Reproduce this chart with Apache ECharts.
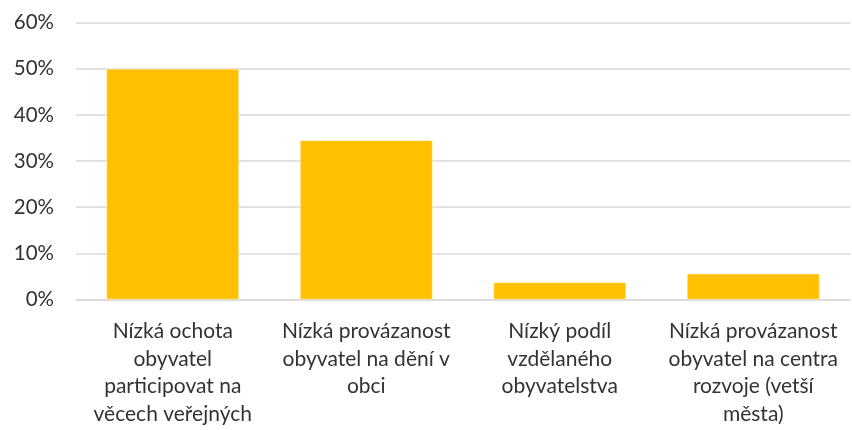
<!DOCTYPE html>
<html>
<head>
<meta charset="utf-8">
<script src="https://cdn.jsdelivr.net/npm/echarts@6/dist/echarts.min.js"></script>
<style>
  html, body { margin: 0; padding: 0; background: #fff; }
  #chart { width: 852px; height: 430px; }
</style>
</head>
<body>
<div id="chart"></div>
<script>
// Categories (wrapped as they appear under the axis)
const categories = [
  'Nízká ochota\nobyvatel\nparticipovat na\nvěcech veřejných',
  'Nízká provázanost\nobyvatel na dění v\nobci',
  'Nízký podíl\nvzdělaného\nobyvatelstva',
  'Nízká provázanost\nobyvatel na centra\nrozvoje (vetší\nměsta)'
];
// Share of responses, in percent
const shares = [50, 34.5, 3.7, 5.6];
// Value axis range
const axisMin = 0;
const axisMax = 60;
const axisStep = 10;

const FONT = 'Lato, "Open Sans", sans-serif';
const chart = echarts.init(document.getElementById('chart'), null, { renderer: 'canvas' });
chart.setOption({
  animation: false,
  backgroundColor: '#ffffff',
  grid: { left: 76, right: 2, top: 22.7, bottom: 130.5, containLabel: false },
  xAxis: {
    type: 'category',
    data: categories,
    axisLine: { show: true, lineStyle: { color: '#d9d9d9', width: 1.5 } },
    axisTick: { show: false },
    axisLabel: {
      interval: 0,
      margin: 18,
      color: '#333333',
      fontFamily: FONT,
      fontSize: 21,
      lineHeight: 27.5,
      align: 'center'
    }
  },
  yAxis: {
    type: 'value',
    min: axisMin,
    max: axisMax,
    interval: axisStep,
    axisLine: { show: false },
    axisTick: { show: false },
    splitLine: { lineStyle: { color: '#d9d9d9', width: 1.5 } },
    axisLabel: {
      formatter: v => v + '%',
      color: '#333333',
      fontFamily: FONT,
      fontSize: 20.5,
      margin: 22
    }
  },
  series: [{
    type: 'bar',
    data: shares,
    barCategoryGap: '31.5%',
    itemStyle: { color: '#ffc000', borderColor: '#fff2cc', borderWidth: 0.6 }
  }]
});
</script>
</body>
</html>
